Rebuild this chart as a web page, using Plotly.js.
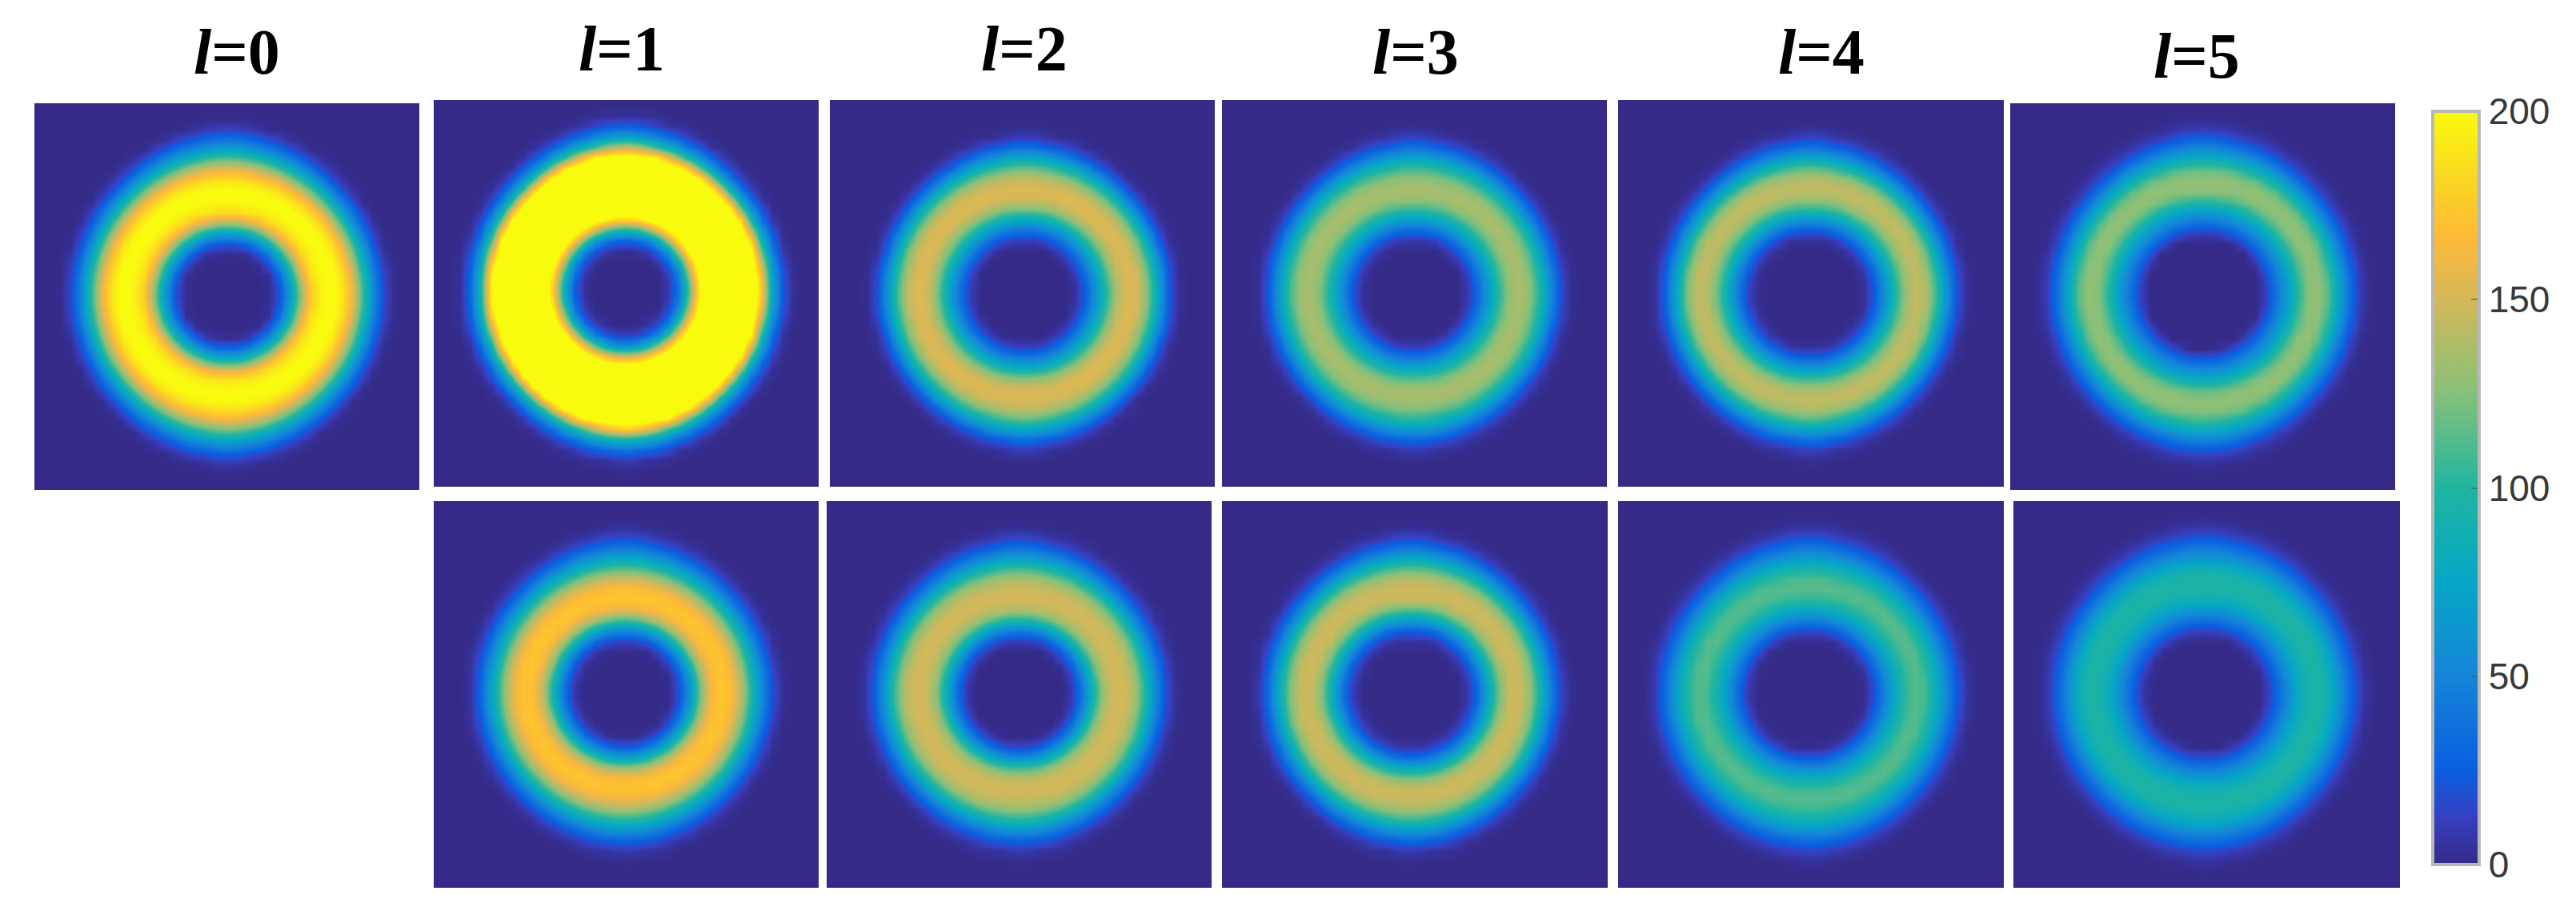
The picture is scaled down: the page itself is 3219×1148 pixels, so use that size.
<!DOCTYPE html>
<html>
<head>
<meta charset="utf-8">
<script src="https://cdn.plot.ly/plotly-3.0.1.min.js"></script>
<style>
    html, body { margin: 0; padding: 0; background: #ffffff; }
</style>
</head>
<body>
<div id="graph" style="width:3219px;height:1148px"></div>
<script>
let radii = [0, 48, 60, 72, 84, 96, 108, 120, 132, 144, 156, 168, 180, 192, 204, 216, 240];

// Intensity along the radius, one list per panel
let top0 = [0, 0, 5, 38, 90, 150, 188, 198, 205, 190, 160, 112, 60, 22, 2, 0, 0];
let top1 = [0, 0, 15, 55, 140, 210, 240, 240, 240, 240, 235, 195, 95, 35, 5, 0, 0];
let top2 = [0, 0, 0, 15, 45, 80, 120, 148, 155, 148, 118, 72, 25, 3, 0, 0, 0];
let top3 = [0, 0, 0, 12, 40, 72, 105, 130, 138, 130, 105, 65, 25, 4, 0, 0, 0];
let top4 = [0, 0, 0, 5, 28, 62, 100, 130, 145, 142, 115, 70, 28, 5, 0, 0, 0];
let top5 = [0, 0, 0, 0, 22, 48, 72, 105, 127, 130, 115, 78, 42, 14, 2, 0, 0];
let bot1 = [0, 0, 2, 25, 68, 125, 162, 174, 170, 148, 108, 65, 28, 6, 0, 0, 0];
let bot2 = [0, 0, 0, 18, 55, 105, 140, 150, 150, 138, 105, 62, 25, 5, 0, 0, 0];
let bot3 = [0, 0, 0, 8, 32, 75, 115, 145, 150, 142, 112, 68, 28, 5, 0, 0, 0];
let bot4 = [0, 0, 0, 2, 22, 50, 78, 102, 114, 112, 92, 62, 32, 10, 1, 0, 0];
let bot5 = [0, 0, 0, 1, 18, 40, 62, 84, 96, 98, 86, 60, 34, 12, 2, 0, 0];

let profiles = [top0, top1, top2, top3, top4, top5, bot1, bot2, bot3, bot4, bot5];

// Shape of the ring by direction: E, SE, S, SW, W, NW, N, NE
let peakShape = [1, 0.98, 0.96, 0.98, 1, 0.98, 0.96, 0.98];
let outerShape = [1, 1, 1.04, 1, 1, 1, 1.04, 1];
let peakRadius = 132;
let outerRadius = 190;

// Ring centre relative to the panel centre
let centerX = [0, -2, 2, -2, -2, 0, -3, -1, -5, -3, -3];
let centerY = [-2, -4, 0, -1, 0, -4, -3, -2, -2, -2, -2];

let tickValues = [0, 50, 100, 150, 200];
let titles = ["0", "1", "2", "3", "4", "5"];

// Panel boxes in page pixels
let W = 3219;
let H = 1148;
let boxes = [
    [43, 524, 129, 612], [542, 1023, 125, 608], [1037, 1518, 125, 608],
    [1527, 2008, 125, 608], [2022, 2504, 125, 608], [2512, 2993, 129, 612],
    [542, 1023, 626, 1109], [1033, 1514, 626, 1109], [1527, 2009, 626, 1109],
    [2022, 2504, 626, 1109], [2516, 2999, 626, 1109]
];
let titleX = [296, 777, 1280, 1769, 2276, 2745];
let titleY = [65, 61, 61, 65, 65, 70];

let colors = [
    [0, "#352a87"], [0.0625, "#3640c0"], [0.125, "#0a5fe0"], [0.25, "#1585d8"],
    [0.375, "#06a7c6"], [0.5, "#1fb5a0"], [0.625, "#86c07a"], [0.75, "#d4b85a"],
    [0.83, "#fdb938"], [0.9, "#fbd325"], [1, "#f9fb0e"]
];

function lookup(list, r) {
    for (let i = 1; i < radii.length; i++) {
        if (r <= radii[i]) {
            let k = (r - radii[i - 1]) / (radii[i] - radii[i - 1]);
            return list[i - 1] + k * (list[i] - list[i - 1]);
        }
    }
    return 0;
}

function byDirection(list, angle) {
    let a = (angle < 0 ? angle + 2 * Math.PI : angle) / (Math.PI / 4);
    let i = Math.floor(a) % 8;
    let k = a - Math.floor(a);
    return list[i] + k * (list[(i + 1) % 8] - list[i]);
}

// Turns a distance in some direction into the radius of the left-right profile
function ringRadius(r, angle) {
    let peak = peakRadius * byDirection(peakShape, angle);
    let outer = outerRadius * byDirection(outerShape, angle);
    if (r <= peak) {
        return r * peakRadius / peak;
    }
    return peakRadius + (r - peak) * (outerRadius - peakRadius) / (outer - peak);
}

// The picture is a coarse camera frame, about 13 px to a cell
let grid = [];
for (let v = -234; v <= 234; v += 13) {
    grid.push(v);
}

let traces = [];
let layout = {
    width: W,
    height: H,
    margin: { l: 0, r: 0, t: 0, b: 0 },
    paper_bgcolor: "#ffffff",
    plot_bgcolor: "#ffffff",
    showlegend: false,
    annotations: [],
    coloraxis: {
        cmin: 0,
        cmax: 200,
        colorscale: colors,
        colorbar: {
            x: 3040 / W,
            xanchor: "left",
            y: 1 - 139 / H,
            yanchor: "top",
            len: 941,
            lenmode: "pixels",
            thickness: 58,
            thicknessmode: "pixels",
            xpad: 0,
            ypad: 0,
            outlinecolor: "#b8b8b8",
            outlinewidth: 4,
            ticks: "inside",
            ticklen: 12,
            tickwidth: 2,
            tickcolor: "rgba(70,70,70,0.45)",
            tickmode: "array",
            tickvals: tickValues,
            ticktext: tickValues.map(String),
            tickfont: { family: "Liberation Sans", size: 46, color: "#383838" }
        }
    }
};

for (let p = 0; p < profiles.length; p++) {
    let z = [];
    for (let row = 0; row < grid.length; row++) {
        let line = [];
        for (let col = 0; col < grid.length; col++) {
            let dx = grid[col] - centerX[p];
            let dy = grid[row] - centerY[p];
            let r = Math.sqrt(dx * dx + dy * dy);
            line.push(lookup(profiles[p], ringRadius(r, Math.atan2(dy, dx))));
        }
        z.push(line);
    }

    let suffix = p === 0 ? "" : String(p + 1);
    traces.push({
        type: "heatmap",
        x: grid,
        y: grid,
        z: z,
        coloraxis: "coloraxis",
        zsmooth: "best",
        hoverinfo: "skip",
        xaxis: "x" + suffix,
        yaxis: "y" + suffix
    });

    let box = boxes[p];
    layout["xaxis" + suffix] = {
        domain: [box[0] / W, box[1] / W],
        range: [-240.5, 240.5],
        visible: false,
        anchor: "y" + suffix
    };
    layout["yaxis" + suffix] = {
        domain: [1 - box[3] / H, 1 - box[2] / H],
        range: [240.5, -240.5],
        visible: false,
        anchor: "x" + suffix
    };
}

for (let i = 0; i < titles.length; i++) {
    layout.annotations.push({
        xref: "paper",
        yref: "paper",
        x: titleX[i] / W,
        y: 1 - titleY[i] / H,
        xanchor: "center",
        yanchor: "middle",
        showarrow: false,
        text: "<b><i>l</i>=" + titles[i] + "</b>",
        font: { family: "Liberation Serif", size: 80, color: "#000000" }
    });
}

Plotly.newPlot("graph", traces, layout, { displayModeBar: false });
</script>
</body>
</html>
